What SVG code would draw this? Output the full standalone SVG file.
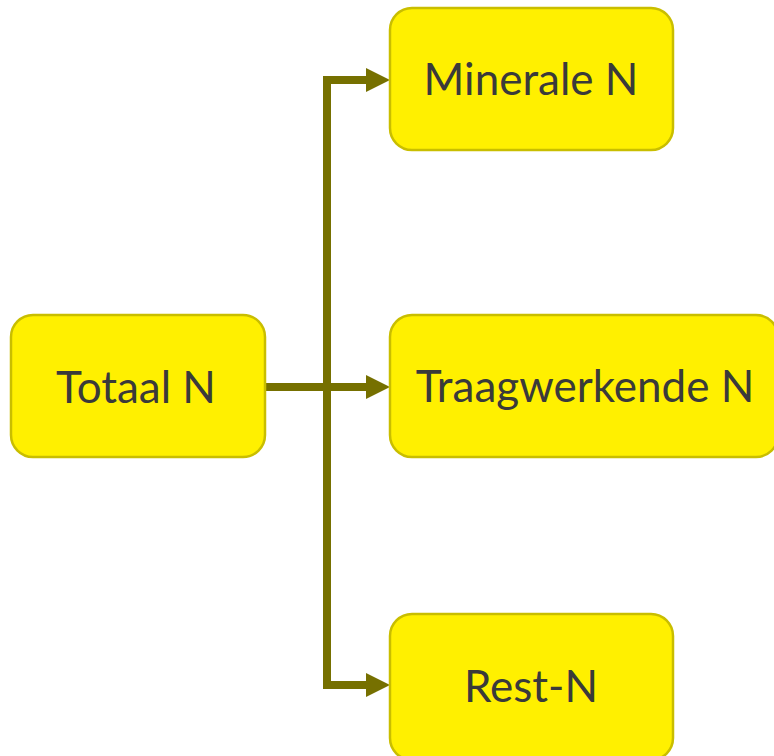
<svg xmlns="http://www.w3.org/2000/svg" width="774" height="756" viewBox="0 0 774 756">
  <defs>
    <style>
      .box { fill: #FFF000; stroke: #C9BE00; stroke-width: 2.5; }
      .label { font-family: Lato, "Open Sans", "Liberation Sans", sans-serif; font-size: 44px; fill: #3A3A3A; text-anchor: middle; }
      .wire { fill: none; stroke: #767000; stroke-width: 8; }
      .head { fill: #767000; }
    </style>
  </defs>
  <rect width="774" height="756" fill="#FFFFFF"/>

  <!-- connectors: trunk from the source, split to three targets -->
  <g id="connectors">
    <path class="wire" d="M265 387 H368"/>
    <path class="wire" d="M327 76 V689"/>
    <path class="wire" d="M323 80 H368"/>
    <path class="wire" d="M323 685 H368"/>
    <polygon class="head" points="366,68 390,80 366,92"/>
    <polygon class="head" points="366,375 390,387 366,399"/>
    <polygon class="head" points="366,673 390,685 366,697"/>
  </g>

  <g id="totaal">
    <rect class="box" x="11" y="315" width="254" height="142" rx="22"/>
    <text class="label" x="136" y="403">Totaal N</text>
  </g>

  <g id="minerale">
    <rect class="box" x="390" y="8" width="283" height="142" rx="22"/>
    <text class="label" x="531" y="95">Minerale N</text>
  </g>

  <g id="traagwerkende">
    <rect class="box" x="390" y="315" width="388" height="142" rx="22"/>
    <text class="label" x="585" y="402">Traagwerkende N</text>
  </g>

  <g id="rest">
    <rect class="box" x="390" y="614" width="283" height="146" rx="22"/>
    <text class="label" x="531" y="702">Rest-N</text>
  </g>
</svg>
